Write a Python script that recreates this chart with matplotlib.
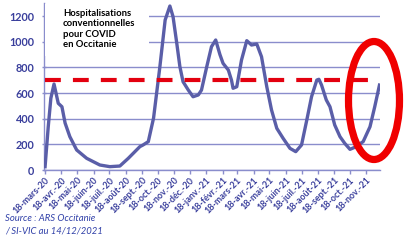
import matplotlib
matplotlib.use("Agg")
import matplotlib.pyplot as plt
from matplotlib.patches import Ellipse, Rectangle
import datetime as dt

# ---- data ----
dates = ["2020-03-18", "2020-03-24", "2020-03-29", "2020-04-04", "2020-04-12", "2020-04-19",
         "2020-04-25", "2020-05-04", "2020-05-17", "2020-06-05", "2020-06-30", "2020-07-19",
         "2020-08-07", "2020-08-23", "2020-09-14", "2020-09-20", "2020-09-30", "2020-10-10",
         "2020-10-22", "2020-11-01", "2020-11-10", "2020-11-16", "2020-11-23", "2020-11-29",
         "2020-12-05", "2020-12-15", "2020-12-24", "2021-01-03", "2021-01-09", "2021-01-19",
         "2021-01-28", "2021-02-05", "2021-02-13", "2021-02-19", "2021-03-01", "2021-03-07",
         "2021-03-10", "2021-03-17", "2021-03-26", "2021-04-05", "2021-04-14", "2021-04-24",
         "2021-05-03", "2021-05-13", "2021-05-22", "2021-06-01", "2021-06-13", "2021-06-26",
         "2021-07-07", "2021-07-18", "2021-07-28", "2021-08-06", "2021-08-16", "2021-08-20",
         "2021-08-25", "2021-09-03", "2021-09-10", "2021-09-19", "2021-09-29", "2021-10-08",
         "2021-10-18", "2021-10-27", "2021-11-12", "2021-11-25", "2021-12-04", "2021-12-13"]
values = [26, 337, 560, 670, 520, 493,
          366, 260, 156, 91, 39, 26,
          31, 91, 182, 195, 221, 405,
          805, 1169, 1278, 1195, 990, 805,
          688, 623, 571, 585, 623, 805,
          961, 1013, 900, 831, 779, 700,
          637, 649, 857, 1008, 974, 982,
          883, 649, 468, 325, 247, 169,
          143, 195, 390, 571, 701, 707,
          662, 546, 493, 351, 260, 208,
          161, 177, 221, 337, 493, 662]
threshold = 700
tick_dates = ["2020-03-18", "2020-04-18", "2020-05-18", "2020-06-18", "2020-07-18", "2020-08-18",
              "2020-09-18", "2020-10-18", "2020-11-18", "2020-12-18", "2021-01-18", "2021-02-18",
              "2021-03-18", "2021-04-18", "2021-05-18", "2021-06-18", "2021-07-18", "2021-08-18",
              "2021-09-18", "2021-10-18", "2021-11-18"]
tick_labels = ["18-mars-20", "18-avr.-20", "18-mai-20", "18-juin-20", "18-juil.-20", "18-août-20",
               "18-sept.-20", "18-oct.-20", "18-nov.-20", "18-déc.-20", "18-janv.-21", "18-févr.-21",
               "18-mars-21", "18-avr.-21", "18-mai-21", "18-juin-21", "18-juil.-21", "18-août-21",
               "18-sept.-21", "18-oct.-21", "18-nov.-21"]
y_ticks = [0, 200, 400, 600, 800, 1000, 1200]
title_text = "Hospitalisations\nconventionnelles\npour COVID\nen Occitanie"
source_text = "Source : ARS Occitanie\n/ SI-VIC au 14/12/2021"

# ---- plotting ----
W, H = 409, 243
fig = plt.figure(figsize=(W / 100, H / 100), dpi=100)
fig.patch.set_facecolor("white")
ax = fig.add_axes([43.5 / W, 1 - 170 / H, 336.5 / W, 166.8 / H])

line_col = "#5a5ea8"
grid_col = "#8a8dcc"
lab_col = "#3a3f9c"

x = [dt.datetime.strptime(d, "%Y-%m-%d") for d in dates]
ax.plot(x, values, color=line_col, lw=2.4, solid_joinstyle="round", zorder=3)
ax.axhline(threshold, xmin=0.005, xmax=0.97, color="#e3000f", lw=3.0,
           dashes=(3.8, 2.9), zorder=4)

ax.set_xlim(dt.datetime(2020, 3, 15), dt.datetime(2021, 12, 14))
ax.set_ylim(0, 1300)
ax.set_yticks(y_ticks)
ax.set_yticklabels([str(v) for v in y_ticks], fontfamily="Lato", fontweight="bold",
                   fontsize=7.8, color=lab_col)
tx = [dt.datetime.strptime(d, "%Y-%m-%d") for d in tick_dates]
ax.set_xticks(tx)
ax.set_xticklabels(tick_labels, rotation=45, ha="right", rotation_mode="anchor",
                   fontfamily="Lato", fontweight="bold", fontsize=6.5, color=lab_col)
ax.tick_params(axis="x", length=3, width=1, color=grid_col, pad=1)
ax.tick_params(axis="y", length=3, width=1, color=grid_col, direction="inout", pad=5)

ax.grid(axis="y", color=grid_col, lw=1.0, zorder=1)
ax.set_axisbelow(True)
for s in ["top", "right"]:
    ax.spines[s].set_visible(False)
for s in ["left", "bottom"]:
    ax.spines[s].set_color(grid_col)
    ax.spines[s].set_linewidth(1.0)

# white box behind title
fig.patches.append(Rectangle((45 / W, 1 - 56 / H), 104 / W, 52 / H, transform=fig.transFigure,
                             facecolor="white", edgecolor="none", zorder=2))
fig.text(63 / W, 1 - 9 / H, title_text, ha="left", va="top", fontfamily="Lato",
         fontweight="bold", fontsize=6.8, color="black", linespacing=1.2)

fig.text(5 / W, 1 - 214 / H, source_text, ha="left", va="top", fontfamily="Lato",
         style="italic", fontsize=6.8, color="#3040a8", linespacing=1.5)

fig.patches.append(Ellipse((374 / W, 1 - 100.5 / H), 51 / W, 118 / H, transform=fig.transFigure,
                           facecolor="none", edgecolor="#f00000", lw=5.2, zorder=10))

fig.savefig("out.png", dpi=100)
